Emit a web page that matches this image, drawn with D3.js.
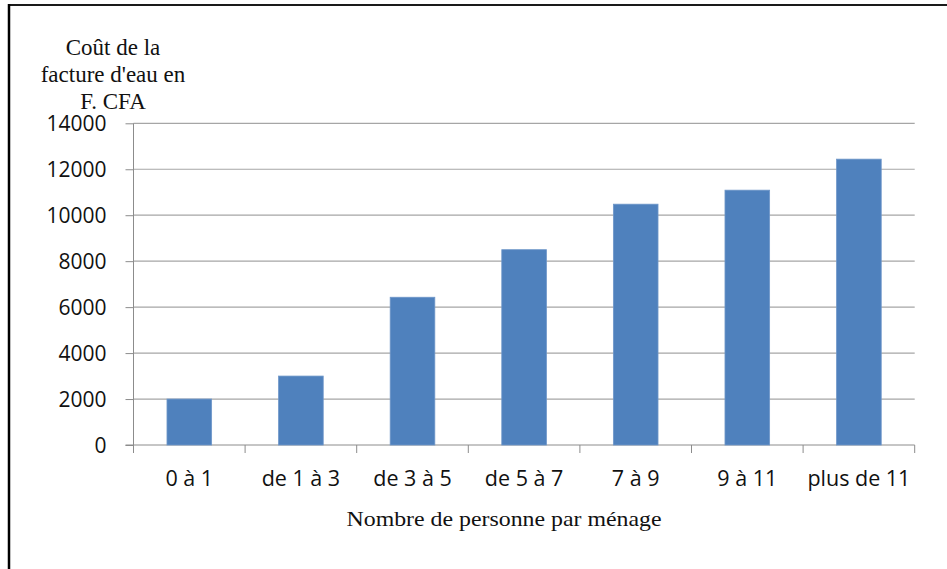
<!DOCTYPE html>
<html lang="fr">
<head>
  <meta charset="UTF-8">
  <title>Coût de la facture d'eau</title>
  <style>
    body { margin: 0; background: #fff; }
    svg { display: block; }
  </style>
</head>
<body>
  <script src="https://cdn.jsdelivr.net/npm/d3@7/dist/d3.min.js"></script>
  <script>
    // donnees
    const categories = ['0 à 1', 'de 1 à 3', 'de 3 à 5', 'de 5 à 7', '7 à 9', '9 à 11', 'plus de 11'];
    const couts = [2000, 3000, 6430, 8500, 10480, 11090, 12440];
    const yTicks = [0, 2000, 4000, 6000, 8000, 10000, 12000, 14000];
    const yTitle = ['Coût de la', "facture d'eau en", 'F. CFA'];
    const xTitle = 'Nombre de personne par ménage';

    function barChart(){
      const _chart = {};
      const _width = 947, _height = 569;
      const _left = 133.5, _right = 914.7, _top = 123.3, _bottom = 445;
      const _color = '#4F81BD';
      let _svg;

      _chart.render = function(){
        _svg = d3.select('body').append('svg')
          .attr('width', _width)
          .attr('height', _height);
        renderFrame();
        renderAxes();
        renderBars();
        renderTitles();
      };

      const x = d3.scaleBand().domain(categories).range([_left, _right]).paddingInner(0.6).paddingOuter(0.3);
      const xBand = d3.scaleBand().domain(categories).range([_left, _right]);
      const y = d3.scaleLinear().domain([0, 14000]).range([_bottom, _top]);

      function renderFrame(){
        _svg.append('line')
          .attr('x1', 8).attr('x2', _width).attr('y1', 5).attr('y2', 5)
          .attr('stroke', '#1a1a1a').attr('stroke-width', 2);
        _svg.append('line')
          .attr('x1', 9).attr('x2', 9).attr('y1', 4).attr('y2', _height)
          .attr('stroke', '#000').attr('stroke-width', 2.5);
      }

      function renderAxes(){
        // quadrillage
        _svg.append('g').attr('class', 'grid')
          .selectAll('line').data(yTicks.filter(d => d > 0)).enter().append('line')
          .attr('x1', _left).attr('x2', _right)
          .attr('y1', d => y(d)).attr('y2', d => y(d))
          .attr('stroke', '#a6a6a6').attr('stroke-width', 1.2);

        const yAxis = _svg.append('g')
          .attr('transform', `translate(${_left},0)`)
          .call(d3.axisLeft(y).tickValues(yTicks).tickSize(8).tickPadding(19).tickFormat(d3.format('d')));
        yAxis.select('.domain').attr('stroke', '#8c8c8c').attr('d', `M-0,${_top}V${_bottom + 8}`);
        yAxis.selectAll('.tick line').attr('stroke', '#8c8c8c');
        yAxis.selectAll('text')
          .attr('font-family', '"Open Sans", sans-serif').attr('font-size', 21).attr('fill', '#111')
          .attr('dy', '0.36em');

        const xAxis = _svg.append('g')
          .attr('transform', `translate(0,${_bottom})`)
          .call(d3.axisBottom(xBand).tickSize(0).tickPadding(26));
        xAxis.select('.domain').attr('stroke', '#8c8c8c').attr('d', `M${_left - 8},0H${_right}`);
        xAxis.selectAll('text')
          .attr('font-family', '"Open Sans", sans-serif').attr('font-size', 21.5).attr('fill', '#111');
        // graduations entre les categories
        const bounds = categories.map(c => xBand(c)).concat([_right]);
        xAxis.append('g').selectAll('line').data(bounds).enter().append('line')
          .attr('x1', d => d).attr('x2', d => d).attr('y1', 0).attr('y2', 8)
          .attr('stroke', '#8c8c8c');
      }

      function renderBars(){
        _svg.append('g').attr('class', 'bars')
          .selectAll('rect').data(couts).enter().append('rect')
          .attr('x', (d, i) => x(categories[i]))
          .attr('width', x.bandwidth())
          .attr('y', d => y(d))
          .attr('height', d => _bottom - y(d))
          .attr('fill', _color)
          .attr('stroke', '#6f97c9').attr('stroke-width', 0.8);
      }

      function renderTitles(){
        _svg.append('g').selectAll('text').data(yTitle).enter().append('text')
          .attr('x', 113).attr('y', (d, i) => 55 + i * 27)
          .attr('text-anchor', 'middle')
          .attr('font-family', '"Liberation Serif", serif').attr('font-size', 23).attr('fill', '#111')
          .text(d => d);
        _svg.append('text')
          .attr('x', 504).attr('y', 526)
          .attr('text-anchor', 'middle')
          .attr('font-family', '"Liberation Serif", serif').attr('font-size', 21).attr('fill', '#111')
          .attr('textLength', 315).attr('lengthAdjust', 'spacingAndGlyphs')
          .text(xTitle);
      }
      return _chart;
    }

    barChart().render();
  </script>
</body>
</html>
